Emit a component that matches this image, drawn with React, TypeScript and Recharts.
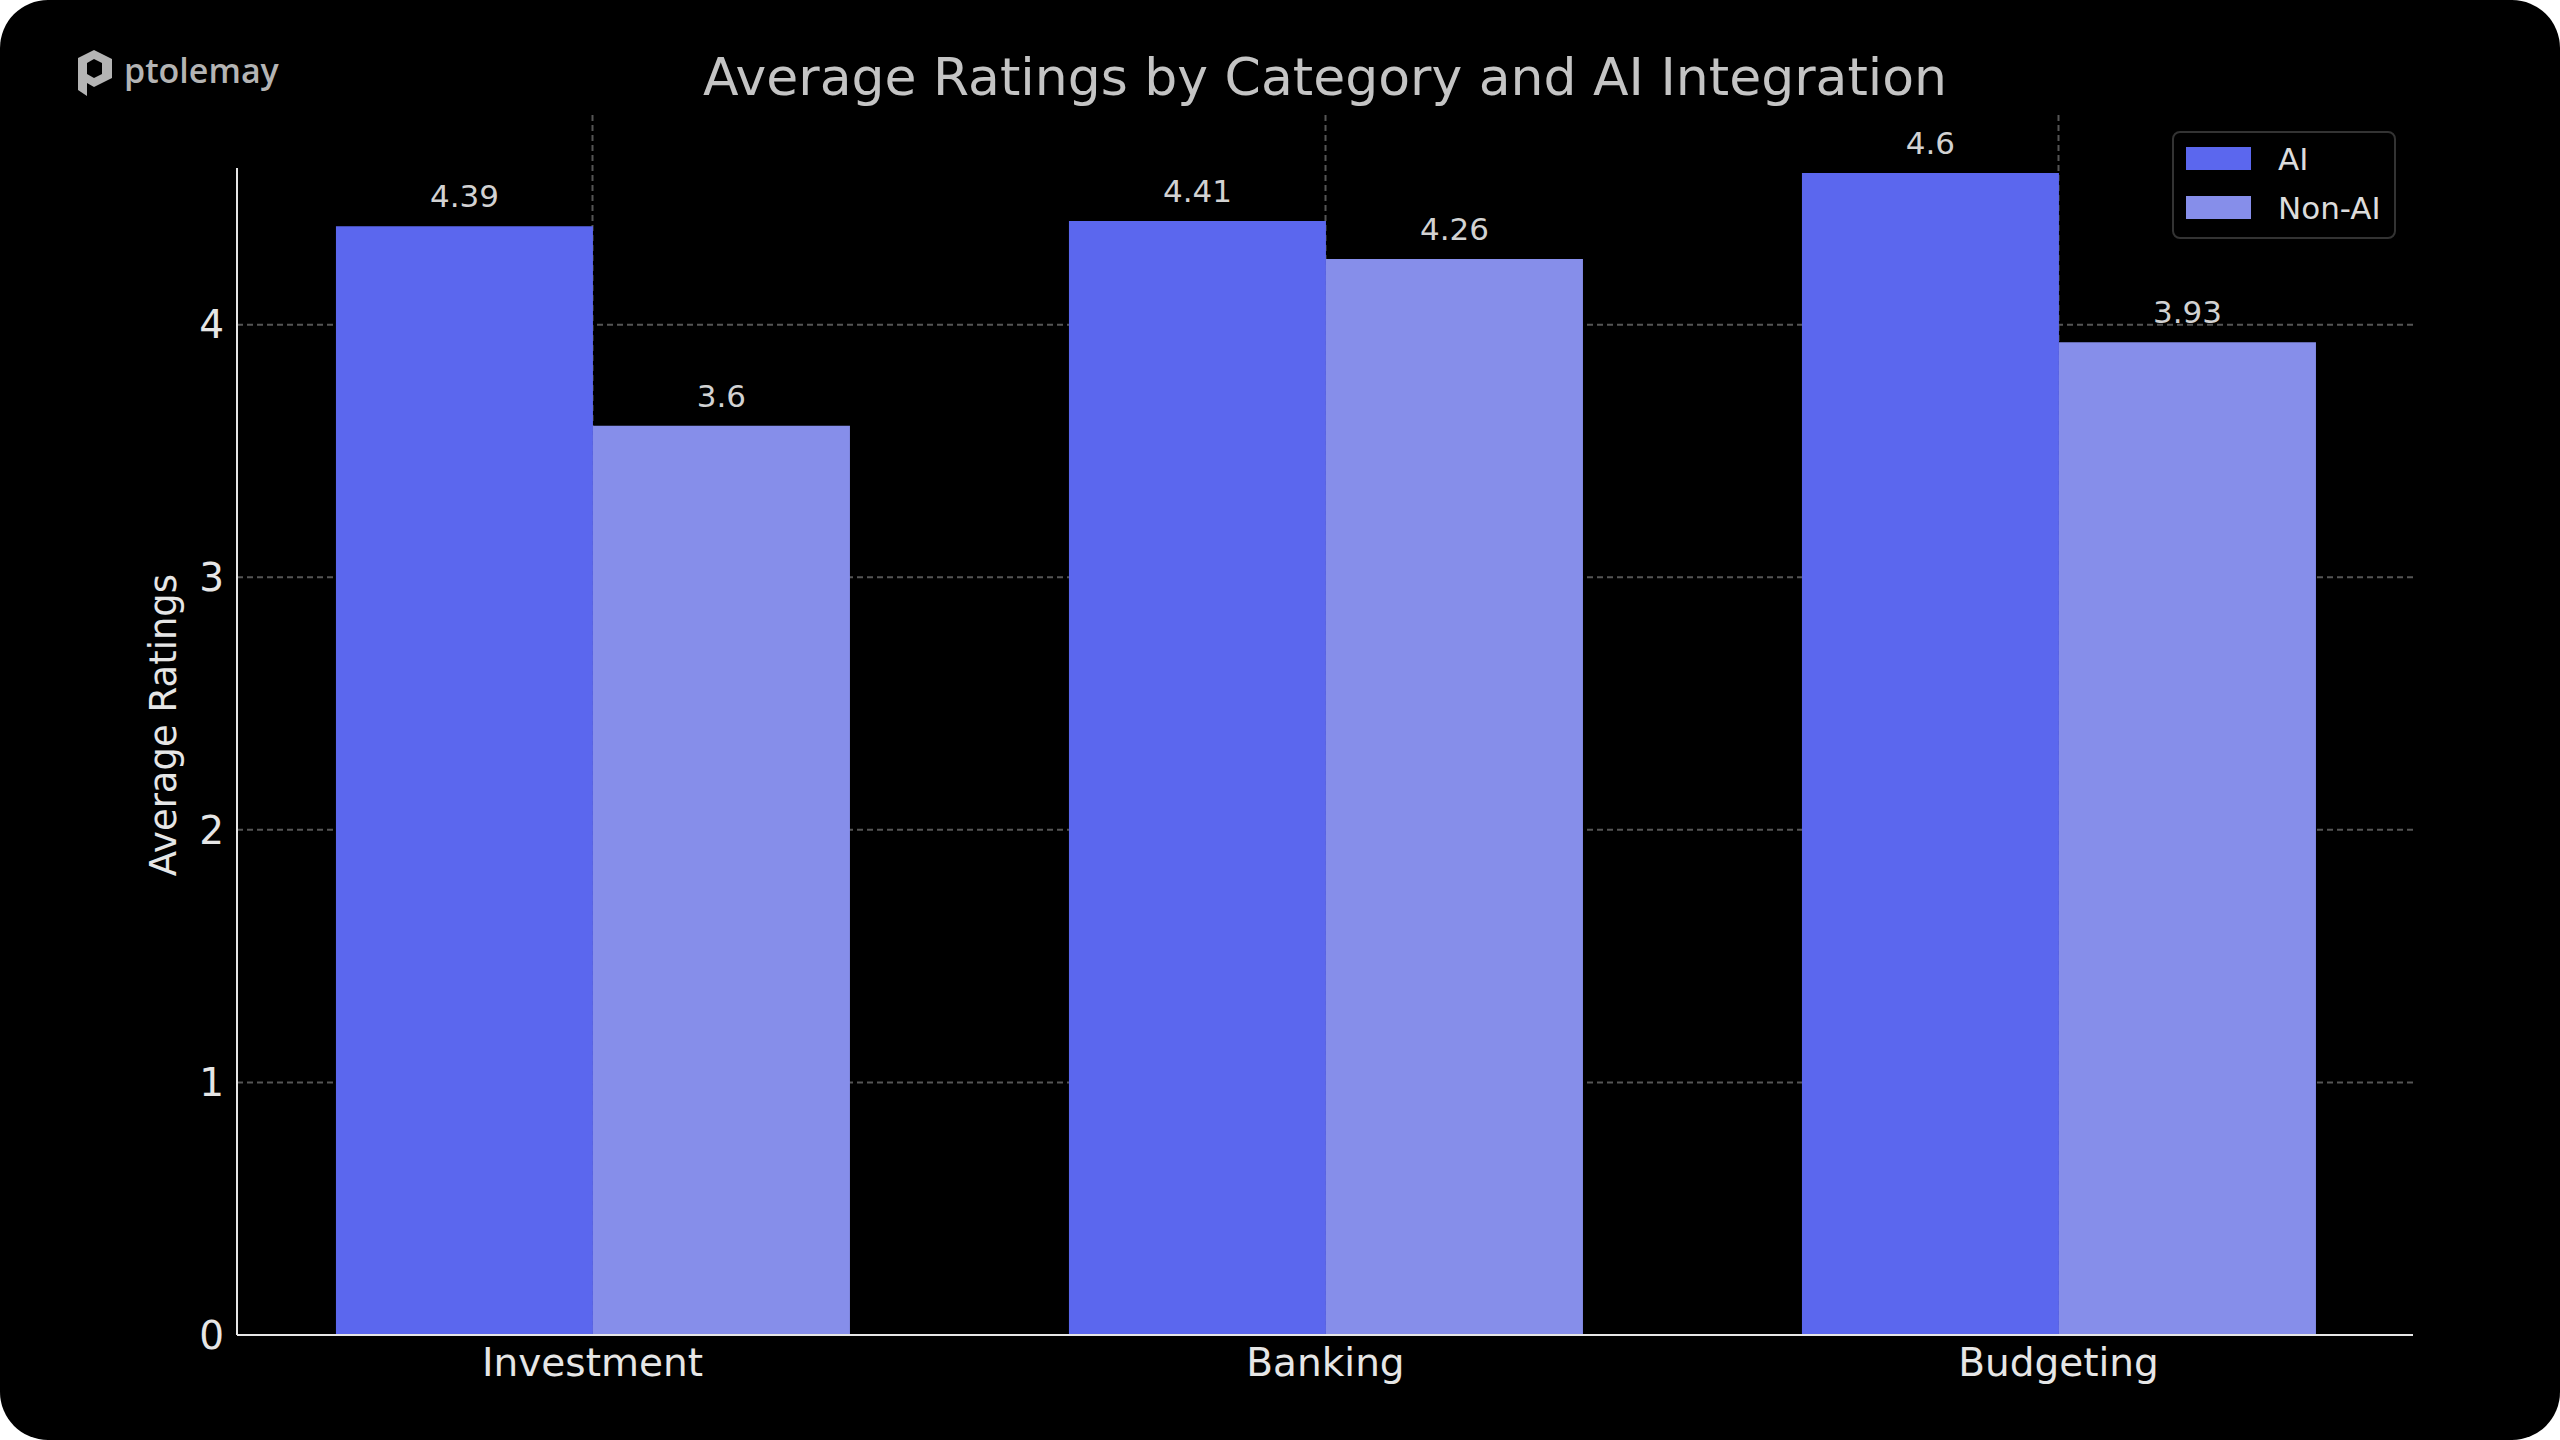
import { BarChart, Bar, XAxis, YAxis, CartesianGrid, Legend, LabelList, ReferenceLine } from 'recharts';

const categories = ['Investment', 'Banking', 'Budgeting'];
const aiRatings = [4.39, 4.41, 4.6];
const nonAiRatings = [3.6, 4.26, 3.93];
const yTicks = [0, 1, 2, 3, 4];
const gridValues = [1, 2, 3, 4];

const chartData = categories.map((category, i) => ({
  category,
  ai: aiRatings[i],
  nonAi: nonAiRatings[i],
}));

const FONT = '"DejaVu Sans", sans-serif';

const LegendBox = ({ payload }: any) => (
  <div
    style={{
      width: 224,
      height: 108,
      border: '2px solid #333',
      borderRadius: 8,
      background: '#000',
      boxSizing: 'border-box',
      padding: '13px 0 0 12px',
      fontFamily: FONT,
    }}
  >
    {(payload || []).map((entry: any) => (
      <div key={entry.value} style={{ display: 'flex', alignItems: 'center', height: 49 }}>
        <span style={{ width: 65, height: 23, background: entry.color, display: 'inline-block', marginTop: -24 }} />
        <span style={{ color: '#dcdcdc', fontSize: 31, marginLeft: 27, marginTop: -24 }}>{entry.value}</span>
      </div>
    ))}
  </div>
);

const YLabel = ({ viewBox }: any) => {
  const cx = viewBox.x + 26;
  const cy = viewBox.y + viewBox.height / 2;
  return (
    <text
      x={cx}
      y={cy}
      transform={`rotate(-90, ${cx}, ${cy})`}
      textAnchor="middle"
      dominantBaseline="central"
      fill="#e6e6e6"
      fontSize={37}
      fontFamily={FONT}
    >
      Average Ratings
    </text>
  );
};

const Logo = () => (
  <div style={{ position: 'absolute', left: 78, top: 50, display: 'flex', alignItems: 'center' }}>
    <svg width={36} height={46} viewBox="0 0 36 46">
      <path d="M0 8 L16 0 L34 9 L34 28 L16 37 L9 33 L9 46 L0 40 Z" fill="#b4b4b4" />
      <path d="M9 13 L16 9 L24 13 L24 24 L16 28 L9 24 Z" fill="#000" />
    </svg>
    <span
      style={{
        marginLeft: 10,
        fontFamily: '"Open Sans", sans-serif',
        fontWeight: 600,
        fontSize: 34,
        color: '#b4b4b4',
        marginTop: -6,
      }}
    >
      ptolemay
    </span>
  </div>
);

const App = () => {
  return (
    <div style={{ position: 'absolute', top: 0, left: 0, width: 2560, height: 1440, background: '#fff' }}>
      <div
        style={{
          position: 'absolute',
          inset: 0,
          background: '#000',
          borderRadius: 48,
          overflow: 'hidden',
        }}
      >
        <Logo />
        <div
          style={{
            position: 'absolute',
            left: 237,
            width: 2176,
            top: 45,
            lineHeight: '64px',
            textAlign: 'center',
            fontFamily: FONT,
            fontSize: 52,
            color: '#c4c4c4',
          }}
        >
          Average Ratings by Category and AI Integration
        </div>
        <BarChart
          width={2560}
          height={1440}
          data={chartData}
          margin={{ top: 115, right: 147, bottom: 45, left: 137 }}
          barCategoryGap="15%"
          barGap={0}
          style={{ position: 'absolute', top: 0, left: 0 }}
        >
          <XAxis
            dataKey="category"
            height={60}
            padding={{ left: -11, right: -12 }}
            axisLine={{ stroke: '#e6e6e6', strokeWidth: 2 }}
            tickLine={false}
            tickSize={0}
            tickMargin={13}
            tick={{ fill: '#e6e6e6', fontSize: 39, fontFamily: FONT }}
          />
          <XAxis xAxisId="spine" type="number" domain={[0, 1]} hide />
          <YAxis
            width={100}
            domain={[0, 4.83]}
            ticks={yTicks}
            axisLine={false}
            tickLine={false}
            tickSize={0}
            tickMargin={13}
            tick={{ fill: '#e6e6e6', fontSize: 39, fontFamily: FONT }}
            label={<YLabel />}
          />
          <Legend
            layout="vertical"
            align="center"
            verticalAlign="middle"
            wrapperStyle={{ top: 131, left: 2172, width: 224 }}
            content={<LegendBox />}
          />
          <Bar dataKey="ai" name="AI" fill="#5B67EE" isAnimationActive={false}>
            <LabelList dataKey="ai" position="top" offset={19} fill="#d2d2d2" fontSize={31} fontFamily={FONT} />
          </Bar>
          <Bar dataKey="nonAi" name="Non-AI" fill="#868EEA" isAnimationActive={false}>
            <LabelList dataKey="nonAi" position="top" offset={19} fill="#d2d2d2" fontSize={31} fontFamily={FONT} />
          </Bar>
          <CartesianGrid
            stroke="#555"
            strokeWidth={2}
            strokeDasharray="6 4"
            horizontalValues={gridValues}
            verticalValues={categories}
          />
          <ReferenceLine
            xAxisId="spine"
            segment={[
              { x: 0, y: 0 },
              { x: 0, y: 4.62 },
            ]}
            stroke="#e6e6e6"
            strokeWidth={2}
          />
        </BarChart>
      </div>
    </div>
  );
};

export default App;
